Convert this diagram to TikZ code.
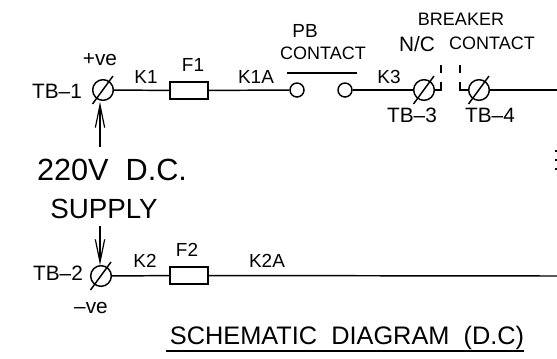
\documentclass[tikz,border=0pt]{standalone}
\usepackage{fontspec}
\setmainfont{Liberation Sans}
\usetikzlibrary{arrows.meta}
\usetikzlibrary{calc}
\tikzset{>=latex}
\begin{document}
\begin{tikzpicture}[x=0.75pt,y=-0.75pt,
		wire/.style = {line width=1.1pt},
		terminal/.style = {draw, circle, line width=1.1pt, inner sep=0pt, minimum size=15.5pt},
		contact/.style = {draw, circle, line width=1.1pt, inner sep=0pt, minimum size=10.5pt},
		fuse/.style = {draw, rectangle, line width=1.1pt, inner sep=0pt, minimum width=28.5pt, minimum height=12.5pt},
		lab/.style = {inner sep=0pt, font=\fontsize{14.2}{16}\selectfont},
		word/.style = {inner sep=0pt, font=\fontsize{13.5}{16}\selectfont},
		tag/.style = {inner sep=0pt, font=\fontsize{15.6}{18}\selectfont},
		feed/.style = {line width=0.9pt, -{Straight Barb[length=17pt,width=7pt]}},
	]
	\useasboundingbox (0,0) rectangle (557,358);
	% terminals and fuses
	\node[terminal] (tb1) at (103,90) {};
	\node[terminal] (tb2) at (101,276) {};
	\node[terminal] (tb3) at (424,90) {};
	\node[terminal] (tb4) at (479,90) {};
	\node[fuse] (f1) at (189,90.5) {};
	\node[fuse] (f2) at (189,275.5) {};
	\node[contact] (pb1) at (297,90) {};
	\node[contact] (pb2) at (345,90) {};
	\foreach \t in {tb1,tb2,tb3,tb4}
	{
		\draw[wire] ($(\t)+(-10.5,14)$) -- ($(\t)+(10,-14)$);
	};
	% free ends
	\coordinate (end1) at (557,90);
	\coordinate (end2) at (557,276);
	\coordinate (up) at (100,147);
	\coordinate (down) at (100,226);
	\coordinate (brk1) at (441,90);
	\coordinate (brk2) at (460,90);
	% wiring
	\draw[wire] (tb1) -- (f1);
	\draw[wire] (f1) -- (pb1);
	\draw[wire] (pb2) -- (tb3);
	\draw[wire] (tb3) -- (brk1) -- +(0,-8);
	\draw[wire] (tb4) -- (brk2) -- +(0,-8);
	\draw[wire] (tb4) -- (end1);
	\draw[wire] (tb2) -- (f2);
	\draw[wire] (f2) -- (end2);
	\draw[wire] (brk1)+(0,-25) -- +(0,-17);
	\draw[wire] (brk2)+(0,-25) -- +(0,-17);
	\draw[line width=1.4pt] (287,73) -- (357,73);
	\draw[feed] (up) -- (100,102);
	\draw[feed] (down) -- (100,265);
	% marks at the right edge
	\foreach \y in {151,160,169}
	{
		\draw[line width=1.4pt] (555,\y) -- (557,\y);
	};
	% labels
	\node[tag] (ltb1) at (57,91) {TB–1};
	\node[tag] (lpos) at (100,60) {+ve};
	\node[lab] (lk1) at (146,77) {K1};
	\node[lab] (lf1) at (193,65) {F1};
	\node[lab] (lk1a) at (256,77) {K1A};
	\node[lab] (lpb) at (305,31) {PB};
	\node[word] (lcon) at (323,53) {CONTACT};
	\node[word] (lbrk) at (461,19) {BREAKER};
	\node[tag] (lnc) at (417,44) {N/C};
	\node[word] (lcon2) at (492,43) {CONTACT};
	\node[lab] (lk3) at (389,77) {K3};
	\node[tag] (ltb3) at (412,115) {TB–3};
	\node[tag] (ltb4) at (490,115) {TB–4};
	\node[inner sep=0pt, font=\fontsize{23}{26}\selectfont] (lvolt) at (112,170) {220V\ \ D.C.};
	\node[inner sep=0pt, font=\fontsize{20.8}{24}\selectfont] (lsup) at (104,209) {SUPPLY};
	\node[tag] (ltb2) at (58,273) {TB–2};
	\node[lab] (lk2) at (145,261) {K2};
	\node[lab] (lf2) at (187,250) {F2};
	\node[lab] (lk2a) at (267,261) {K2A};
	\node[tag] (lneg) at (91,308) {–ve};
	\node[inner sep=0pt, font=\fontsize{19}{22}\selectfont] (ltitle) at (347,338) {SCHEMATIC\ \ DIAGRAM\ \ (D.C)};
	\draw[line width=1.1pt] (166,351) -- (524,351);
\end{tikzpicture}
\end{document}
